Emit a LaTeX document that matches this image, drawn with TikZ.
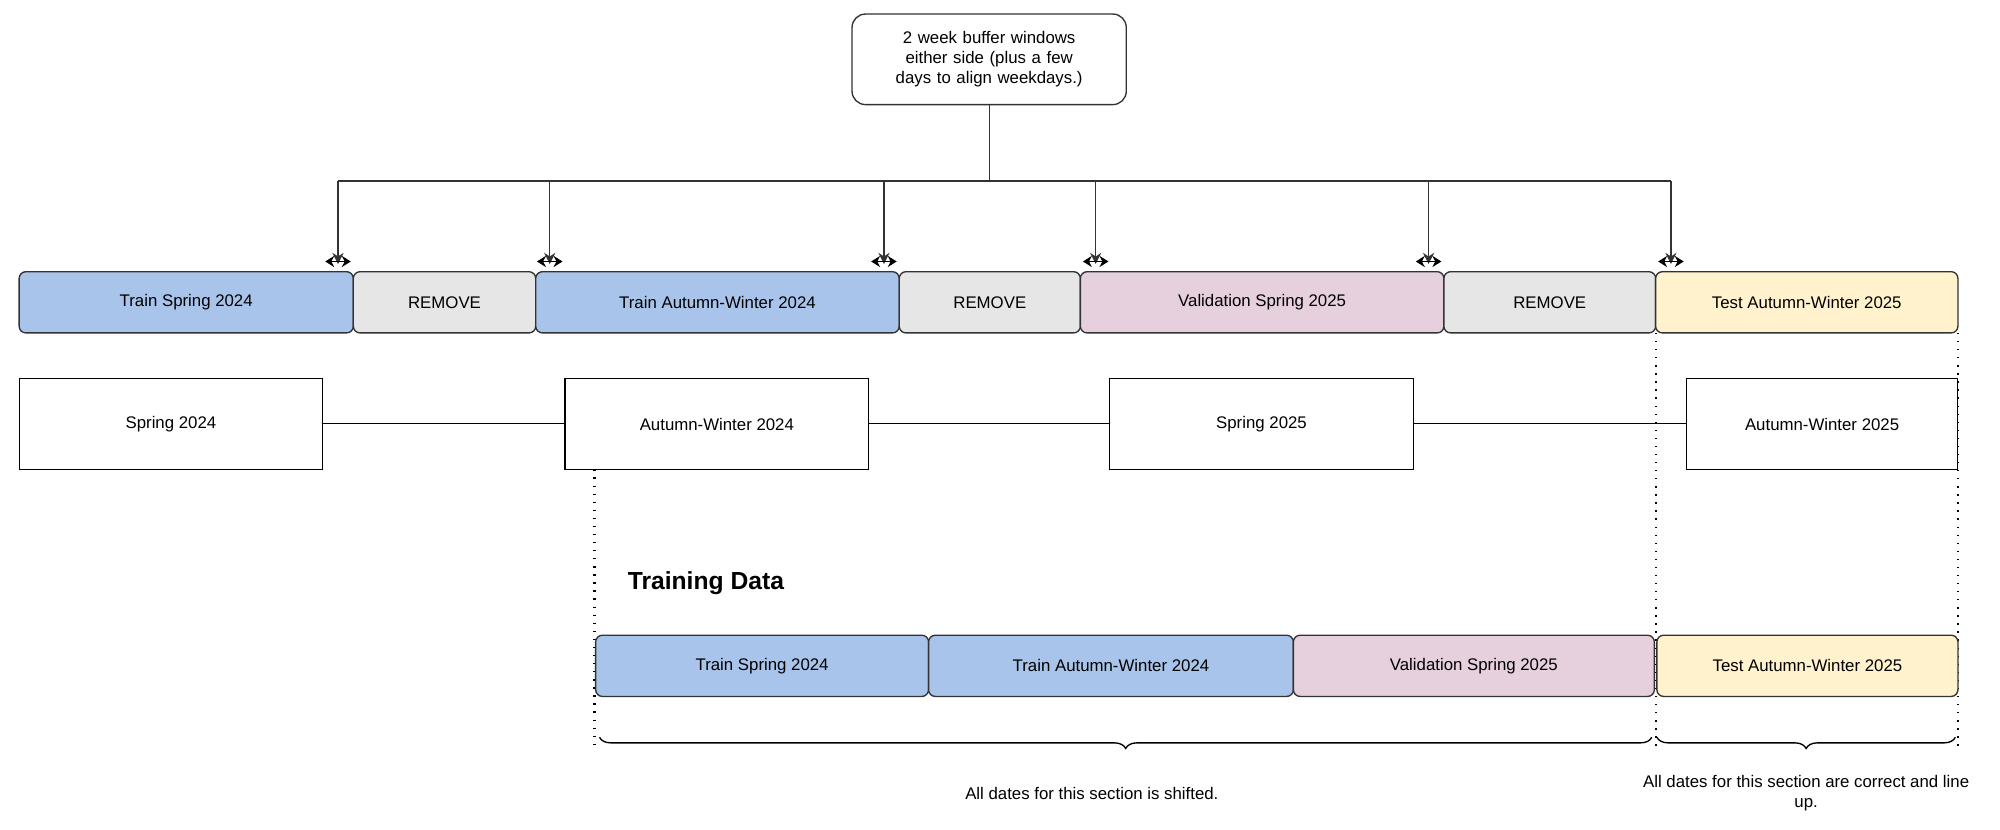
\documentclass[tikz,border=0pt]{standalone}
\usepackage{fontspec}
\setmainfont{Liberation Sans}
\usetikzlibrary{decorations.pathreplacing,arrows.meta}
\definecolor{cblue}{HTML}{A9C4EB}
\definecolor{cgray}{HTML}{E6E6E6}
\definecolor{cpink}{HTML}{E6D0DE}
\definecolor{cyel}{HTML}{FFF2CC}
\begin{document}
\begin{tikzpicture}[x=0.02cm,y=-0.02cm,
  every node/.style={font=\fontsize{7.5}{9}\selectfont},
  bar/.style={draw=black!80,line width=0.6pt,rounded corners=3pt},
  wbox/.style={draw=black,line width=0.5pt},
  conn/.style={line width=0.6pt,draw=black!80},
  dots/.style={line width=1pt,dash pattern=on 0.6pt off 3pt},
  br/.style={decorate,decoration={brace,mirror,amplitude=5pt},line width=0.6pt}]
\useasboundingbox (0,0) rectangle (1568,650);
% top note
\draw[bar,rounded corners=6pt,fill=white] (668,11) rectangle (883,82);
\node[align=center,text width=3.9cm] (note) at (775.5,46.5) {2 week buffer windows either side (plus a few days to align weekdays.)};
\coordinate (nb) at (776,82);
\coordinate (hub) at (776,142);
\draw[conn] (nb) -- (hub);
\draw[conn] (265,142) -- (1310,142);
\foreach \x in {265,431,693,859,1120,1310}{
  \draw[conn,-{Stealth[length=5pt,width=5pt]}] (\x,142) -- (\x,207);
  \draw[line width=0.6pt,{Stealth[length=4pt,width=5pt]}-{Stealth[length=4pt,width=5pt]}] (\x-10,205) -- (\x+10,205);
}
% row 1
\newcommand\barr[6]{\draw[bar,fill=#5] (#1,#3) rectangle (#2,#4); \node (#6) at ({(#1+#2)/2},{(#3+#4)/2}) {};}
\draw[bar,fill=cblue] (15,213) rectangle node (a1) {Train Spring 2024} (277,261);
\draw[bar,fill=cgray] (277,213) rectangle node (a2) {REMOVE} (420,261);
\draw[bar,fill=cblue] (420,213) rectangle node (a3) {Train Autumn-Winter 2024} (705,261);
\draw[bar,fill=cgray] (705,213) rectangle node (a4) {REMOVE} (847,261);
\draw[bar,fill=cpink] (847,213) rectangle node (a5) {Validation Spring 2025} (1132,261);
\draw[bar,fill=cgray] (1132,213) rectangle node (a6) {REMOVE} (1298,261);
\draw[bar,fill=cyel] (1298,213) rectangle node (a7) {Test Autumn-Winter 2025} (1535,261);
% row 2
\draw[wbox] (15,297) rectangle node (s1) {Spring 2024} (253,368);
\draw[wbox] (443,297) rectangle node (s2) {Autumn-Winter 2024} (681,368);
\draw[wbox] (870,297) rectangle node (s3) {Spring 2025} (1108,368);
\draw[wbox] (1322,297) rectangle node (s4) {Autumn-Winter 2025} (1535,368);
\draw[line width=0.5pt] (253,332) -- (443,332) (681,332) -- (870,332) (1108,332) -- (1322,332);
% dotted guides
\draw[dots] (466,368) -- (466,585);
\draw[dots] (1298,261) -- (1298,585);
\draw[dots] (1535,261) -- (1535,585);
\node[anchor=west,font=\bfseries\fontsize{11}{13}\selectfont] (td) at (486,457) {Training Data};
% bottom
\draw[bar,fill=cblue] (467,498) rectangle node (b1) {Train Spring 2024} (728,546);
\draw[bar,fill=cblue] (728,498) rectangle node (b2) {Train Autumn-Winter 2024} (1014,546);
\draw[bar,fill=cpink] (1014,498) rectangle node (b3) {Validation Spring 2025} (1297,546);
\draw[bar,fill=cyel] (1299,498) rectangle node (b4) {Test Autumn-Winter 2025} (1535,546);
\draw[br] (470,578) -- (1295,578);
\draw[br] (1299,578) -- (1533,578);
\node (t1) at (856,622) {All dates for this section is shifted.};
\node[align=center] (t2) at (1416,622) {All dates for this section are correct and line\\up.};
\end{tikzpicture}
\end{document}
